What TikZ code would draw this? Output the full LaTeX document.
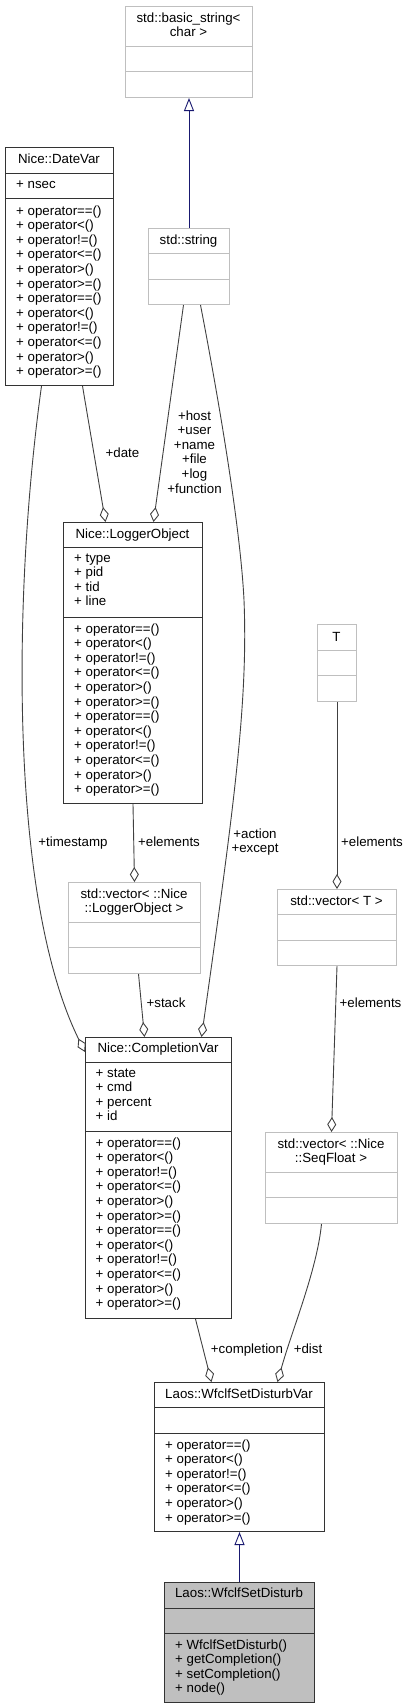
\documentclass[tikz,border=0pt]{standalone}
\usepackage{fontspec}
\setmainfont{Liberation Sans}
\usepackage{tikz}
\usetikzlibrary{arrows.meta,calc}

\definecolor{edgegrey}{HTML}{404040}
\definecolor{boxgrey}{HTML}{BFBFBF}
\definecolor{inhblue}{HTML}{191970}
\newcommand{\dgfont}{\fontsize{13.3}{14.6}\selectfont}

\tikzset{
  classbox/.style={draw=black!80, line width=1pt, anchor=north west, inner sep=0pt},
  extbox/.style={draw=boxgrey, line width=1pt, anchor=north west, inner sep=0pt},
  classdiv/.style={draw=black!80, line width=1pt},
  extdiv/.style={draw=boxgrey, line width=1pt},
  title/.style={anchor=base, inner sep=0pt, font=\dgfont},
  names/.style={anchor=north, align=center, inner sep=0pt, font=\dgfont, execute at begin node=\strut},
  members/.style={anchor=north west, align=left, inner sep=0pt, font=\dgfont, execute at begin node=\strut},
  lbl/.style={anchor=base, inner sep=0pt, font=\dgfont},
  lbls/.style={anchor=north, align=center, inner sep=0pt, font=\dgfont, execute at begin node=\strut},
  assoc/.style={draw=edgegrey, line width=0.9pt, -{Diamond[open, length=15pt, width=9pt]}},
  inherit/.style={draw=inhblue, line width=0.9pt, -{Triangle[open, length=13pt, width=10pt]}},
}

\begin{document}
\begin{tikzpicture}[x=1pt,y=-1pt]
\useasboundingbox (0,0) rectangle (410,1708);

% std::basic_string< char >
\node[extbox, minimum width=127pt, minimum height=91pt] (basicstr) at (125,6) {};
\draw[extdiv] (basicstr.west |- 0,46) -- (basicstr.east |- 0,46);
\draw[extdiv] (basicstr.west |- 0,71) -- (basicstr.east |- 0,71);
\node[names] (basicstrtxt) at (188.5,12.3) {std::basic\_string<\\char >};

% std::string
\node[extbox, minimum width=81pt, minimum height=76pt] (stdstr) at (148,228) {};
\draw[extdiv] (stdstr.west |- 0,253) -- (stdstr.east |- 0,253);
\draw[extdiv] (stdstr.west |- 0,279) -- (stdstr.east |- 0,279);
\node[title] (stdstrtxt) at (188.5,244.5) {std::string};

% Nice::DateVar
\node[classbox, minimum width=108pt, minimum height=238pt] (datevar) at (5,147) {};
\draw[classdiv] (datevar.west |- 0,173) -- (datevar.east |- 0,173);
\draw[classdiv] (datevar.west |- 0,198) -- (datevar.east |- 0,198);
\node[title] (datevartxt) at (59,163.5) {Nice::DateVar};
\node[members] (datevarattr) at (16,178.3) {+ nsec};
\node[members] (datevarops) at (16,205.3) {+ operator==()\\+ operator<()\\+ operator!=()\\+ operator<=()\\+ operator>()\\+ operator>=()\\+ operator==()\\+ operator<()\\+ operator!=()\\+ operator<=()\\+ operator>()\\+ operator>=()};

% Nice::LoggerObject
\node[classbox, minimum width=139pt, minimum height=281pt] (logobj) at (63,522) {};
\draw[classdiv] (logobj.west |- 0,547) -- (logobj.east |- 0,547);
\draw[classdiv] (logobj.west |- 0,617) -- (logobj.east |- 0,617);
\node[title] (logobjtxt) at (132.5,538.5) {Nice::LoggerObject};
\node[members] (logobjattr) at (74,553.3) {+ type\\+ pid\\+ tid\\+ line};
\node[members] (logobjops) at (74,623.3) {+ operator==()\\+ operator<()\\+ operator!=()\\+ operator<=()\\+ operator>()\\+ operator>=()\\+ operator==()\\+ operator<()\\+ operator!=()\\+ operator<=()\\+ operator>()\\+ operator>=()};

% T
\node[extbox, minimum width=39pt, minimum height=77pt] (tparam) at (317,624) {};
\draw[extdiv] (tparam.west |- 0,650) -- (tparam.east |- 0,650);
\draw[extdiv] (tparam.west |- 0,675) -- (tparam.east |- 0,675);
\node[title] (tparamtxt) at (336.5,641.5) {T};

% std::vector< ::Nice::LoggerObject >
\node[extbox, minimum width=132pt, minimum height=91pt] (veclog) at (68,882) {};
\draw[extdiv] (veclog.west |- 0,922) -- (veclog.east |- 0,922);
\draw[extdiv] (veclog.west |- 0,947) -- (veclog.east |- 0,947);
\node[names] (veclogtxt) at (134,888.3) {std::vector< ::Nice\\::LoggerObject >};

% std::vector< T >
\node[extbox, minimum width=119pt, minimum height=76pt] (vect) at (277,889) {};
\draw[extdiv] (vect.west |- 0,914) -- (vect.east |- 0,914);
\draw[extdiv] (vect.west |- 0,940) -- (vect.east |- 0,940);
\node[title] (vecttxt) at (336.5,905.5) {std::vector< T >};

% Nice::CompletionVar
\node[classbox, minimum width=146pt, minimum height=281pt] (cvar) at (85,1037) {};
\draw[classdiv] (cvar.west |- 0,1062) -- (cvar.east |- 0,1062);
\draw[classdiv] (cvar.west |- 0,1131) -- (cvar.east |- 0,1131);
\node[title] (cvartxt) at (158,1052.5) {Nice::CompletionVar};
\node[members] (cvarattr) at (95.5,1068.3) {+ state\\+ cmd\\+ percent\\+ id};
\node[members] (cvarops) at (95.5,1137.3) {+ operator==()\\+ operator<()\\+ operator!=()\\+ operator<=()\\+ operator>()\\+ operator>=()\\+ operator==()\\+ operator<()\\+ operator!=()\\+ operator<=()\\+ operator>()\\+ operator>=()};

% std::vector< ::Nice::SeqFloat >
\node[extbox, minimum width=132pt, minimum height=91pt] (vecseq) at (265,1132) {};
\draw[extdiv] (vecseq.west |- 0,1172) -- (vecseq.east |- 0,1172);
\draw[extdiv] (vecseq.west |- 0,1197) -- (vecseq.east |- 0,1197);
\node[names] (vecseqtxt) at (331,1138.3) {std::vector< ::Nice\\::SeqFloat >};

% Laos::WfclfSetDisturbVar
\node[classbox, minimum width=170pt, minimum height=149pt] (wfvar) at (154,1382) {};
\draw[classdiv] (wfvar.west |- 0,1407) -- (wfvar.east |- 0,1407);
\draw[classdiv] (wfvar.west |- 0,1433) -- (wfvar.east |- 0,1433);
\node[title] (wfvartxt) at (239,1398.5) {Laos::WfclfSetDisturbVar};
\node[members] (wfvarops) at (165,1439.3) {+ operator==()\\+ operator<()\\+ operator!=()\\+ operator<=()\\+ operator>()\\+ operator>=()};

% Laos::WfclfSetDisturb
\node[classbox, fill=boxgrey, minimum width=150pt, minimum height=120pt] (wf) at (164,1582) {};
\draw[classdiv] (wf.west |- 0,1608) -- (wf.east |- 0,1608);
\draw[classdiv] (wf.west |- 0,1633) -- (wf.east |- 0,1633);
\node[title] (wftxt) at (239,1597.5) {Laos::WfclfSetDisturb};
\node[members] (wfops) at (175,1639.3) {+ WfclfSetDisturb()\\+ getCompletion()\\+ setCompletion()\\+ node()};

% inheritance
\draw[inherit] (stdstr.north) -- (basicstr.south);
\draw[inherit] (wf.north) -- (wfvar.south);

% members
\draw[assoc] ([xshift=23pt]datevar.south) -- ([xshift=-27.5pt]logobj.north);
\node[lbl] (datelbl) at (122.5,457.5) {+date};
\draw[assoc] ([xshift=-5.5pt]stdstr.south) -- ([xshift=20.5pt]logobj.north);
\node[lbls] (strlbl) at (194.5,410.3) {+host\\+user\\+name\\+file\\+log\\+function};
\draw[assoc] ([xshift=-18pt]datevar.south) .. controls (12,600) and (10,900) .. ([yshift=-15pt]cvar.north west);
\node[lbl] (timelbl) at (73,846.5) {+timestamp};
\draw[assoc] ([xshift=11.5pt]stdstr.south) .. controls (215,380) and (240,520) .. (244,600)
  .. controls (248,700) and (235,800) .. ([xshift=43pt]cvar.north);
\node[lbls] (actlbl) at (255,828.3) {+action\\+except};
\draw[assoc] (logobj.south) -- (veclog.north);
\node[lbl] (logellbl) at (169,846.5) {+elements};
\draw[assoc] ([xshift=4pt]veclog.south) -- ([xshift=-14pt]cvar.north);
\node[lbl] (stacklbl) at (166,1007.5) {+stack};
\draw[assoc] (tparam.south) -- (vect.north);
\node[lbl] (tellbl) at (372,846.5) {+elements};
\draw[assoc] (vect.south) -- (vecseq.north);
\node[lbl] (seqellbl) at (370.5,1007.5) {+elements};
\draw[assoc] ([xshift=37pt]cvar.south) -- ([xshift=-28pt]wfvar.north);
\node[lbl] (complbl) at (247,1353.5) {+completion};
\draw[assoc] ([xshift=-10pt]vecseq.south) .. controls (317,1270) and (292,1330) .. ([xshift=38pt]wfvar.north);
\node[lbl] (distlbl) at (308,1353.5) {+dist};
\end{tikzpicture}
\end{document}
